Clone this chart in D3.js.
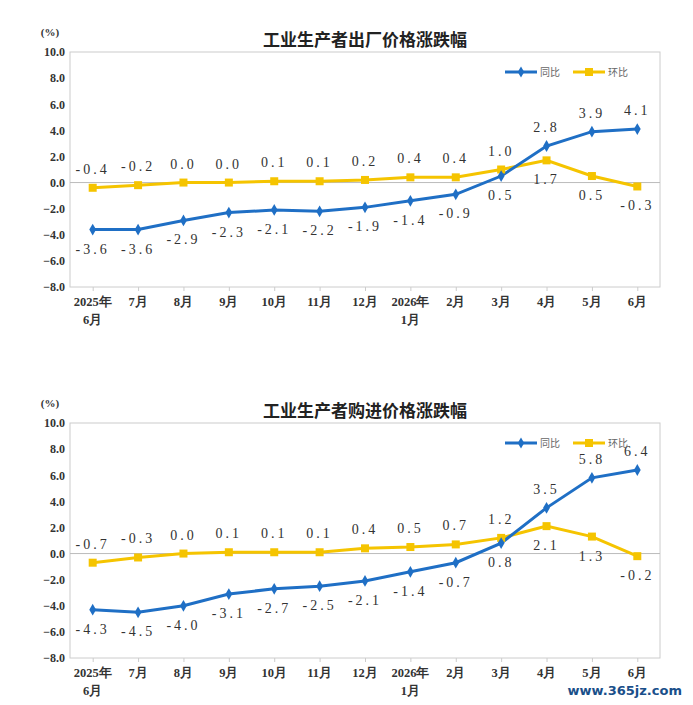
<!DOCTYPE html>
<html><head><meta charset="utf-8">
<script src="https://cdn.jsdelivr.net/npm/d3@7"></script>
<style>body{margin:0;background:#fff}svg{display:block}</style>
</head><body><svg id="c" width="693" height="705"></svg>
<script>
const categories = ["2025年\n6月","7月","8月","9月","10月","11月","12月","2026年\n1月","2月","3月","4月","5月","6月"];
const yTicks = [10,8,6,4,2,0,-2,-4,-6,-8];
const ppiYoY = [-3.6,-3.6,-2.9,-2.3,-2.1,-2.2,-1.9,-1.4,-0.9,0.5,2.8,3.9,4.1];
const ppiMoM = [-0.4,-0.2,0.0,0.0,0.1,0.1,0.2,0.4,0.4,1.0,1.7,0.5,-0.3];
const purYoY = [-4.3,-4.5,-4.0,-3.1,-2.7,-2.5,-2.1,-1.4,-0.7,0.8,3.5,5.8,6.4];
const purMoM = [-0.7,-0.3,0.0,0.1,0.1,0.1,0.4,0.5,0.7,1.2,2.1,1.3,-0.2];
// label placement: 1 = above, -1 = below
const ppiYoYPos = [-1,-1,-1,-1,-1,-1,-1,-1,-1,-1,1,1,1];
const ppiMoMPos = [1,1,1,1,1,1,1,1,1,1,-1,-1,-1];

const svg = d3.select("#c");
const BLUE="#1f6fc5", YEL="#f5c400";
const numFont="'Liberation Serif','DejaVu Serif',serif";
const cjk="'Noto Sans CJK SC',sans-serif";

function chart(top, title, yoy, mom){
  const x0=70,x1=660,yT=top,yB=top+235;
  const x=d3.scalePoint().domain(d3.range(categories.length)).range([x0,x1]).padding(0.5);
  const y=d3.scaleLinear().domain([-8,10]).range([yB,yT]);
  const g=svg.append("g");
  g.append("text").attr("x",365).attr("y",top-6).attr("text-anchor","middle")
   .attr("font-family",cjk).attr("font-weight","bold").attr("font-size",17).attr("fill","#222").text(title);
  g.append("text").attr("x",50).attr("y",top-16).attr("text-anchor","middle")
   .attr("font-family",numFont).attr("font-weight","bold").attr("font-size",11).attr("fill","#333").text("(%)");
  g.append("rect").attr("x",x0).attr("y",yT).attr("width",x1-x0).attr("height",yB-yT)
   .attr("fill","none").attr("stroke","#ccc");
  g.append("line").attr("x1",x0).attr("x2",x1).attr("y1",y(0)).attr("y2",y(0)).attr("stroke","#bbb");
  const ya=g.append("g").attr("transform",`translate(${x0},0)`).call(d3.axisLeft(y).tickValues(yTicks).tickSize(0).tickFormat(d3.format(".1f")));
  ya.select(".domain").remove();
  ya.selectAll("text").attr("font-family",numFont).attr("font-weight","bold").attr("font-size",12).attr("fill","#333").attr("dx",-2);
  const xa=g.append("g").attr("transform",`translate(0,${yB})`).call(d3.axisBottom(x).tickSize(4).tickFormat(""));
  xa.select(".domain").remove();
  xa.selectAll("line").attr("stroke","#ccc");
  categories.forEach((c,i)=>{
    const t=g.append("text").attr("x",x(i)).attr("y",yB+19).attr("text-anchor","middle")
     .attr("font-family",numFont).attr("font-weight","bold").attr("font-size",12.5).attr("fill","#333");
    c.split("\n").forEach((s,k)=>t.append("tspan").attr("x",x(i)).attr("dy",k?18:0).text(s));
  });
  const line=d3.line().x((d,i)=>x(i)).y(d=>y(d));
  [[mom,YEL],[yoy,BLUE]].forEach(([data,col])=>{
    g.append("path").datum(data).attr("d",line).attr("fill","none").attr("stroke",col).attr("stroke-width",3);
  });
  g.selectAll(".sq").data(mom).join("rect").attr("x",(d,i)=>x(i)-4).attr("y",d=>y(d)-4).attr("width",8).attr("height",8).attr("fill",YEL);
  g.selectAll(".dm").data(yoy).join("path").attr("d",d3.symbol(d3.symbolDiamond,40))
   .attr("transform",(d,i)=>`translate(${x(i)},${y(d)})`).attr("fill",BLUE);
  const lab=(data,pos)=>g.selectAll(null).data(data).join("text")
    .attr("x",(d,i)=>x(i)).attr("y",(d,i)=>y(d)+(pos[i]>0?-14:24)).attr("text-anchor","middle")
    .attr("font-family",numFont).attr("font-size",14).attr("letter-spacing",3).attr("fill","#333")
    .text(d=>d.toFixed(1));
  lab(yoy,ppiYoYPos); lab(mom,ppiMoMPos);
  // legend
  const lx=505, ly=top+20;
  g.append("line").attr("x1",lx).attr("x2",lx+32).attr("y1",ly).attr("y2",ly).attr("stroke",BLUE).attr("stroke-width",3);
  g.append("path").attr("d",d3.symbol(d3.symbolDiamond,36)).attr("transform",`translate(${lx+16},${ly})`).attr("fill",BLUE);
  g.append("text").attr("x",lx+35).attr("y",ly+4).attr("font-family",cjk).attr("font-size",10).attr("fill","#666").text("同比");
  g.append("line").attr("x1",lx+68).attr("x2",lx+100).attr("y1",ly).attr("y2",ly).attr("stroke",YEL).attr("stroke-width",3);
  g.append("rect").attr("x",lx+80).attr("y",ly-4).attr("width",8).attr("height",8).attr("fill",YEL);
  g.append("text").attr("x",lx+103).attr("y",ly+4).attr("font-family",cjk).attr("font-size",10).attr("fill","#666").text("环比");
}
chart(52,"工业生产者出厂价格涨跌幅",ppiYoY,ppiMoM);
chart(423,"工业生产者购进价格涨跌幅",purYoY,purMoM);
svg.append("text").attr("x",682).attr("y",695).attr("text-anchor","end").attr("font-family","'DejaVu Sans',sans-serif")
 .attr("font-weight","bold").attr("font-size",13).attr("fill","#1a4f8a").text("www.365jz.com");
</script></body></html>
